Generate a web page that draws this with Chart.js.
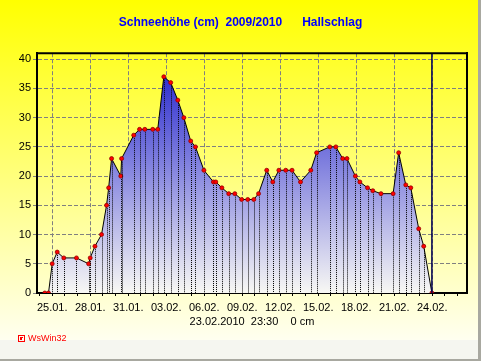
<!DOCTYPE html>
<html><head><meta charset="utf-8">
<script src="https://cdn.jsdelivr.net/npm/chart.js@4.4.0/dist/chart.umd.min.js"></script>
<style>html,body{margin:0;padding:0;background:#fff;overflow:hidden}canvas{display:block}</style>
</head><body>
<canvas id="c" width="481" height="361"></canvas>
<script>
const titleText = 'Schneehöhe (cm)  2009/2010      Hallschlag';
const footerText = '23.02.2010  23:30    0 cm';
const brandText = 'WsWin32';

const times = [
  '24.01 10:00','24.01 17:00','25.01 00:00','25.01 09:30','25.01 22:00','26.01 22:00',
  '27.01 21:00','28.01 00:00','28.01 09:00','28.01 21:30','29.01 07:00','29.01 11:00',
  '29.01 16:30','30.01 10:00','30.01 11:30','31.01 10:30','31.01 21:30','01.02 07:30',
  '01.02 22:30','02.02 08:00','02.02 19:30','03.02 08:30','03.02 22:00','04.02 09:30',
  '04.02 22:30','05.02 07:30','05.02 23:30','06.02 17:30','06.02 22:00','07.02 09:30',
  '07.02 22:30','08.02 10:00','08.02 23:00','09.02 10:30','09.02 22:00','10.02 07:00',
  '10.02 22:30','11.02 10:00','11.02 21:30','12.02 10:30','12.02 22:30','13.02 14:30',
  '14.02 10:00','14.02 21:00','15.02 22:00','16.02 09:30','16.02 22:30','17.02 06:30',
  '17.02 22:30','18.02 07:00','18.02 21:30','19.02 07:30','19.02 23:00','20.02 22:00',
  '21.02 08:30','21.02 22:00','22.02 07:30','22.02 22:30','23.02 08:00','23.02 23:30'
];
const snow = [
  0,0,5,7,6,6,
  5,6,8,10,15,18,
  23,20,23,27,28,28,
  28,28,37,36,33,30,
  26,25,21,19,19,18,
  17,17,16,16,16,17,
  21,19,21,21,21,19,
  21,24,25,25,23,23,
  20,19,18,17.5,17,17,
  24,18.5,18,11,8,0
];
const tickDays = [0,3,6,9,12,15,18,21,24,27,30];
const tickLabels = ['25.01.','28.01.','31.01.','03.02.','06.02.','09.02.','12.02.','15.02.','18.02.','21.02.','24.02.'];
const yTicks = [0,5,10,15,20,25,30,35,40];

function toDay(s) {
  const [dm, hm] = s.split(' ');
  const [d, m] = dm.split('.').map(Number);
  const [h, mi] = hm.split(':').map(Number);
  const base = m === 1 ? d - 25 : d + 6;
  return base + (h + mi / 60) / 24;
}
const points = times.map((t, i) => ({x: toDay(t), y: snow[i]}));
const FONT = '"Liberation Sans", Arial, sans-serif';

const decor = {
  id: 'decor',
  beforeDraw(chart) {
    const c = chart.ctx;
    c.save();
    const g = c.createLinearGradient(0, 0, 0, 340);
    g.addColorStop(0, '#ffff00');
    g.addColorStop(1, '#fffff0');
    c.fillStyle = g;
    c.fillRect(0, 0, 481, 340);
    c.fillStyle = '#f5f6f0';
    c.fillRect(0, 340, 481, 21);
    c.fillStyle = '#a8a8a0';
    c.fillRect(478, 0, 3, 361);
    c.fillRect(0, 359, 481, 2);
    c.restore();
  },
  afterDatasetsDraw(chart) {
    const c = chart.ctx;
    const a = chart.chartArea;
    const meta = chart.getDatasetMeta(0);
    c.save();
    c.strokeStyle = '#000';
    c.lineWidth = 1;
    c.setLineDash([1, 1]);
    meta.data.forEach(p => {
      if (a.bottom - p.y < 5) return;
      const x = Math.round(p.x) + 0.5;
      c.beginPath();
      c.moveTo(x, p.y + 3);
      c.lineTo(x, a.bottom);
      c.stroke();
    });
    c.setLineDash([]);
    const xs = chart.scales.x;
    const lx = xs.getPixelForValue(points[points.length - 1].x);
    c.strokeStyle = '#000050';
    c.lineWidth = 1.5;
    c.beginPath();
    c.moveTo(lx, a.top);
    c.lineTo(lx, a.bottom);
    c.stroke();
    c.strokeStyle = '#000';
    c.lineWidth = 2;
    c.beginPath();
    c.moveTo(a.left, a.top);
    c.lineTo(a.right + 1, a.top);
    c.stroke();
    c.restore();
  },
  afterDraw(chart) {
    const c = chart.ctx;
    c.save();
    c.strokeStyle = '#ff0000';
    c.lineWidth = 1;
    c.strokeRect(18.5, 335.5, 6, 6);
    c.fillStyle = '#ff0000';
    c.fillRect(20, 337, 2, 3);
    c.fillRect(22, 337, 1, 1);
    c.font = '9px ' + FONT;
    c.textBaseline = 'middle';
    c.textAlign = 'left';
    c.fillText(brandText, 28, 339);
    c.restore();
  }
};

new Chart(document.getElementById('c'), {
  type: 'line',
  data: {
    datasets: [{
      data: points,
      borderColor: '#000',
      borderWidth: 1,
      tension: 0,
      fill: 'origin',
      backgroundColor: (ctx) => {
        const ch = ctx.chart;
        const a = ch.chartArea;
        if (!a) return 'rgba(80,80,210,0.8)';
        const top = ch.scales.y.getPixelForValue(Math.max(...snow));
        const g = ch.ctx.createLinearGradient(0, top, 0, a.bottom);
        g.addColorStop(0, 'rgb(48,48,208)');
        g.addColorStop(1, 'rgb(248,248,244)');
        return g;
      },
      pointRadius: 2,
      pointBackgroundColor: '#ff0000',
      pointBorderColor: '#900000',
      pointBorderWidth: 0.8
    }]
  },
  options: {
    responsive: false,
    animation: false,
    devicePixelRatio: 1,
    layout: {padding: {left: 0, right: 0, top: 0, bottom: 28}},
    plugins: {
      legend: {display: false},
      tooltip: {enabled: false},
      title: {
        display: true, text: titleText, color: '#0000ff',
        font: {family: FONT, size: 12, weight: 'bold'},
        padding: {top: 15, bottom: 23.8}
      }
    },
    scales: {
      x: {
        type: 'linear', min: -1.2, max: 32.75,
        afterFit: s => { s.height = 40; },
        ticks: {
          stepSize: 1, includeBounds: false, autoSkip: false, maxRotation: 0,
          color: '#000', font: {family: FONT, size: 11}, padding: 5,
          callback: v => { const i = tickDays.indexOf(v); return i >= 0 ? tickLabels[i] : ''; }
        },
        grid: {
          color: ctx => (ctx.tick && tickDays.includes(ctx.tick.value)) ? '#808080' : 'rgba(0,0,0,0)',
          tickColor: '#000', tickLength: 3, lineWidth: 1
        },
        border: {display: true, color: '#000', width: 2, dash: [4, 2]},
        title: {display: true, text: footerText, color: '#000', font: {family: FONT, size: 11}, padding: {top: 0, bottom: 4}}
      },
      y: {
        min: 0, max: 41.03,
        afterFit: s => { s.width = 37; },
        ticks: {
          stepSize: 5, includeBounds: false, color: '#000', font: {family: FONT, size: 11}, padding: 2,
          callback: v => yTicks.includes(v) ? String(v) : ''
        },
        grid: {color: '#808080', tickColor: '#808080', tickLength: 4, lineWidth: 1},
        border: {display: true, color: '#000', width: 2, dash: [4, 2]}
      },
      y2: {
        position: 'right', min: 0, max: 1,
        afterFit: s => { s.width = 14; },
        ticks: {display: false},
        grid: {display: false},
        border: {display: true, color: '#000', width: 2}
      }
    }
  },
  plugins: [decor]
});
</script>
</body></html>
